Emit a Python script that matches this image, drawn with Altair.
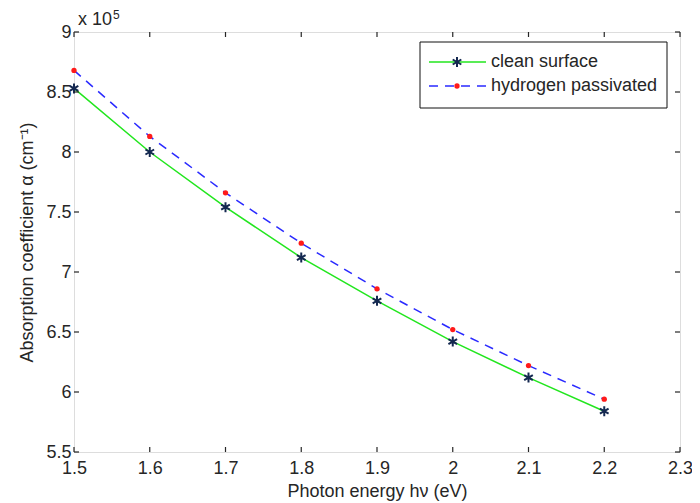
import altair as alt
import pandas as pd

energy = [1.5, 1.6, 1.7, 1.8, 1.9, 2.0, 2.1, 2.2]
clean = [8.53, 8.00, 7.54, 7.12, 6.76, 6.42, 6.12, 5.84]
hydro = [8.68, 8.13, 7.66, 7.24, 6.86, 6.52, 6.22, 5.94]
series_names = ["clean surface", "hydrogen passivated"]
xticks = [1.5, 1.6, 1.7, 1.8, 1.9, 2.0, 2.1, 2.2, 2.3]
yticks = [5.5, 6.0, 6.5, 7.0, 7.5, 8.0, 8.5, 9.0]

df = pd.DataFrame({"E": energy, "clean": clean, "hydro": hydro})
xt_df = pd.DataFrame({"v": xticks})
yt_df = pd.DataFrame({"v": yticks})

FONT = "Liberation Sans"
FS = 18
STAR = "M0,-1L0,1M-0.866,-0.5L0.866,0.5M-0.866,0.5L0.866,-0.5"
GREEN = "#22e61e"
BLUE = "#2a2aff"
NAVY = "#142850"
RED = "#ff1a1a"
INK = "#262626"
W, H = 606, 420
LX = W - 610  # legend shift relative to a 610-wide plot

xs = alt.Scale(domain=[1.5, 2.3], nice=False)
ys = alt.Scale(domain=[5.5, 9.0], nice=False)

ax_common = dict(domain=False, grid=False, ticks=False, labelFlush=False,
                 labelFont=FONT, labelFontSize=FS, labelColor=INK,
                 titleFont=FONT, titleFontSize=FS, titleColor=INK, titleFontWeight="normal")

x_bottom = alt.X("E:Q", scale=xs, axis=alt.Axis(values=xticks, format=".1~f", labelPadding=7,
                                               title="Photon energy hν (eV)", titlePadding=5,
                                               **ax_common))
y_left = alt.Y("clean:Q", scale=ys, axis=alt.Axis(values=yticks, format=".1~f", labelPadding=3,
                                                  title="Absorption coefficient  α (cm⁻¹)", titlePadding=9,
                                                  **ax_common))

def xq(f="E"):
    return alt.X(f + ":Q", scale=xs, axis=None)

def yq(f):
    return alt.Y(f + ":Q", scale=ys, axis=None)

base = alt.Chart(df)

green_line = base.mark_line(color=GREEN, strokeWidth=1.5).encode(x=x_bottom, y=y_left)
blue_line = base.mark_line(color=BLUE, strokeWidth=1.5, strokeDash=[9, 7]).encode(x=xq(), y=yq("hydro"))
stars = base.mark_point(shape=STAR, size=100, color=NAVY, strokeWidth=2, filled=False, opacity=1).encode(
    x=xq(), y=yq("clean"))
dots = base.mark_circle(size=28, color=RED, opacity=1).encode(x=xq(), y=yq("hydro"))

# inward ticks on all four sides (MATLAB box style)
TL = 5
xt_bottom = alt.Chart(xt_df).mark_rule(color=INK, strokeWidth=1.2).encode(
    x=xq("v"), y=alt.value(H), y2=alt.value(H - TL))
xt_top = alt.Chart(xt_df).mark_rule(color=INK, strokeWidth=1.2).encode(
    x=xq("v"), y=alt.value(0), y2=alt.value(TL))
yt_left = alt.Chart(yt_df).mark_rule(color=INK, strokeWidth=1.2).encode(
    y=yq("v"), x=alt.value(0), x2=alt.value(TL))
yt_right = alt.Chart(yt_df).mark_rule(color=INK, strokeWidth=1.2).encode(
    y=yq("v"), x=alt.value(W), x2=alt.value(W - TL))

# exponent annotation
expo = alt.Chart(pd.DataFrame({"t": ["x 10"]})).mark_text(
    align="left", baseline="alphabetic", font=FONT, fontSize=FS, color=INK
).encode(text="t:N", x=alt.value(4), y=alt.value(-7))
expo_sup = alt.Chart(pd.DataFrame({"t": ["5"]})).mark_text(
    align="left", baseline="alphabetic", font=FONT, fontSize=12, color=INK
).encode(text="t:N", x=alt.value(39), y=alt.value(-13))

# legend
leg_box = alt.Chart(pd.DataFrame({"a": [0]})).mark_rect(
    fill="white", stroke="#111", strokeWidth=1
).encode(x=alt.value(350 + LX), x2=alt.value(597 + LX), y=alt.value(10), y2=alt.value(76))
leg_df = pd.DataFrame({"name": series_names, "yy": [30, 54]})
leg_green = alt.Chart(leg_df.iloc[[0]]).mark_rule(color=GREEN, strokeWidth=1.5).encode(
    x=alt.value(359 + LX), x2=alt.value(416 + LX), y=alt.value(30))
leg_blue = alt.Chart(leg_df.iloc[[1]]).mark_rule(color=BLUE, strokeWidth=1.5, strokeDash=[9, 7]).encode(
    x=alt.value(359 + LX), x2=alt.value(416 + LX), y=alt.value(54))
leg_star = alt.Chart(leg_df.iloc[[0]]).mark_point(shape=STAR, size=100, color=NAVY, strokeWidth=2,
                                                   filled=False, opacity=1).encode(
    x=alt.value(387 + LX), y=alt.value(30))
leg_dot = alt.Chart(leg_df.iloc[[1]]).mark_circle(size=28, color=RED, opacity=1).encode(
    x=alt.value(387 + LX), y=alt.value(54))
leg_text = alt.Chart(leg_df).mark_text(align="left", baseline="middle", font=FONT, fontSize=FS,
                                       color=INK).encode(
    text="name:N", x=alt.value(421 + LX), y=alt.Y("yy:Q", scale=None, axis=None))

chart = alt.layer(
    green_line, blue_line, stars, dots, xt_bottom, xt_top, yt_left, yt_right, expo, expo_sup,
    leg_box, leg_green, leg_blue, leg_star, leg_dot, leg_text
).resolve_axis(x="independent", y="independent").properties(
    width=W, height=H,
    autosize=alt.AutoSizeParams(type="none"),
    padding={"left": 66, "top": 24, "right": 12, "bottom": 50},
).configure_view(stroke=INK, strokeWidth=1.3).configure(background="white")

chart.save("out.html", embed_options={"renderer": "svg", "actions": False})
